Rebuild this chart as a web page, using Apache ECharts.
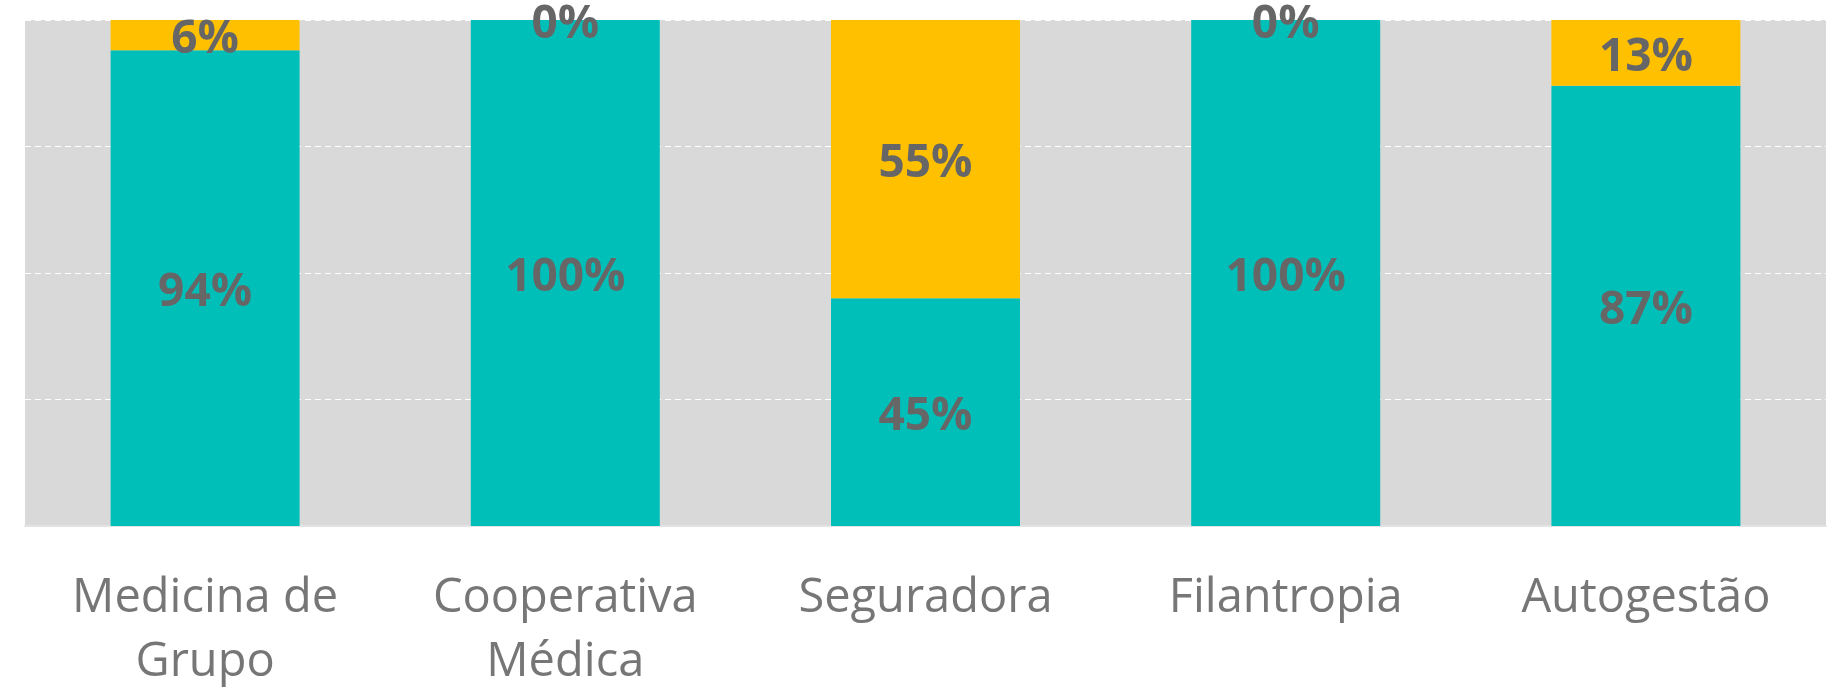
<!DOCTYPE html>
<html>
<head>
<meta charset="utf-8">
<script src="https://cdn.jsdelivr.net/npm/echarts@6/dist/echarts.min.js"></script>
<style>html,body{margin:0;padding:0;background:#fff}#c{width:1840px;height:696px}</style>
</head>
<body>
<div id="c"></div>
<script>
const categories = ["Medicina de\nGrupo", "Cooperativa\nMédica", "Seguradora", "Filantropia", "Autogestão"];
const tealValues = [94, 100, 45, 100, 87];
const yellowValues = [6, 0, 55, 0, 13];
const yTicks = [0, 25, 50, 75, 100];

const chart = echarts.init(document.getElementById('c'), null, {renderer: 'canvas'});
const valueLabel = {
  show: true,
  position: 'inside',
  offset: [0, 5],
  formatter: p => p.value + '%',
  fontFamily: 'Open Sans',
  fontWeight: 'bold',
  fontSize: 46,
  color: '#666666'
};
chart.setOption({
  animation: false,
  grid: {left: 25, right: 14, top: 20, bottom: 170, show: true, backgroundColor: '#d9d9d9', borderWidth: 0},
  xAxis: {
    type: 'category',
    data: categories,
    axisLine: {show: true, lineStyle: {color: '#e3e3e3', width: 2}},
    axisTick: {show: false},
    axisLabel: {fontFamily: 'Open Sans', fontSize: 47, color: '#767676', lineHeight: 64, margin: 41, interval: 0}
  },
  yAxis: {
    type: 'value', min: yTicks[0], max: yTicks[yTicks.length - 1], interval: 25,
    axisLabel: {show: false}, axisLine: {show: false}, axisTick: {show: false},
    splitLine: {show: true, lineStyle: {color: '#ffffff', type: [6, 4], width: 1}}
  },
  series: [
    {type: 'bar', stack: 's', data: tealValues, barWidth: 189, itemStyle: {color: '#00bfb9'}, label: valueLabel},
    {type: 'bar', stack: 's', data: yellowValues, barWidth: 189, itemStyle: {color: '#ffc000'}, label: valueLabel}
  ]
});
</script>
</body>
</html>
